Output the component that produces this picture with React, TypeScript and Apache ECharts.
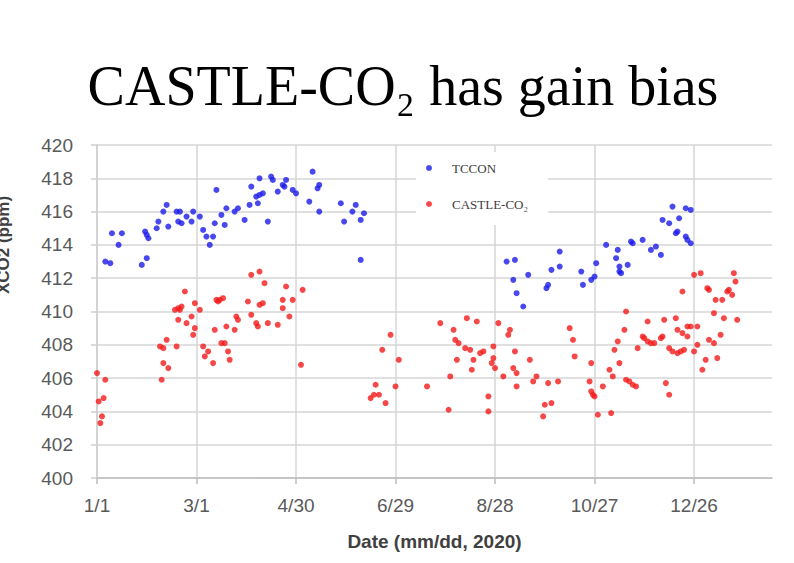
import React, { useEffect, useRef } from "react";
import * as echarts from "echarts";

// x = day of year counted from 1/1/2020, y = XCO2 (ppm)
const xTickLabels = ["1/1", "3/1", "4/30", "6/29", "8/28", "10/27", "12/26"];

const tcconData: [number, number][] = [
  [5, 413.0], [8, 412.9], [9, 414.7], [15, 414.7], [13, 414.0], [27, 412.8], [30, 413.2], [29, 414.8],
  [30, 414.6], [31, 414.4], [36, 415.0], [37, 415.4], [40, 416.0], [42, 416.4], [43, 415.1], [48, 416.0],
  [50, 416.0], [49, 415.4], [51, 415.3], [54, 415.7], [57, 415.4], [58, 416.0], [62, 415.7], [64, 414.9],
  [66, 414.5], [68, 414.0], [70, 414.5], [72, 417.3], [71, 415.3], [75, 415.8], [77, 415.2], [78, 416.2],
  [83, 416.0], [85, 416.2], [89, 415.5], [92, 416.4], [93, 417.5], [96, 416.9], [98, 417.0], [100, 417.1],
  [97, 416.5], [98, 418.0], [103, 415.4], [105, 418.1], [106, 417.9], [109, 417.2], [112, 417.6], [113, 417.5],
  [114, 417.9], [118, 417.3], [120, 417.1], [130, 418.4], [133, 417.4], [134, 417.6], [128, 416.6], [134, 416.0],
  [147, 416.5], [156, 416.4], [154, 416.0], [161, 415.9], [149, 415.4], [159, 415.5], [159, 413.1],
  [247, 413.0], [252, 413.1], [251, 411.9], [253, 411.1], [257, 410.3], [260, 412.2], [271, 411.4], [272, 411.6],
  [274, 412.5], [279, 413.6], [279, 412.7], [292, 412.4], [293, 411.6], [298, 411.9], [300, 412.1], [301, 412.9],
  [307, 414.0], [314, 413.7], [313, 413.2], [315, 412.7], [315, 412.4], [316, 412.3], [320, 412.8], [322, 414.2],
  [323, 414.1], [329, 414.3], [334, 413.7], [337, 413.9], [340, 413.4], [341, 415.5], [345, 415.3], [347, 416.3],
  [351, 415.6], [349, 414.7], [350, 414.8], [355, 416.2], [358, 416.1], [355, 414.5], [356, 414.3], [358, 414.1],
];

const castleData: [number, number][] = [
  [0, 406.3], [5, 405.9], [1, 404.6], [4, 404.8], [3, 403.7], [2, 403.3],
  [39, 405.9], [40, 406.9], [43, 406.6], [38, 407.9], [40, 407.8], [42, 408.3], [48, 407.9], [47, 410.1],
  [49, 410.2], [50, 410.1], [51, 410.3], [53, 411.2], [49, 409.5], [54, 409.3], [57, 409.7], [59, 409.0],
  [58, 408.6], [59, 410.5], [62, 410.1], [64, 407.9], [67, 407.6], [65, 407.3], [70, 406.9], [71, 408.9],
  [72, 410.7], [73, 410.6], [74, 410.7], [76, 410.8], [75, 408.1], [77, 408.1], [79, 407.6], [80, 407.1],
  [78, 409.1], [83, 408.9], [84, 409.7], [85, 409.5], [91, 410.6], [93, 409.8], [93, 412.2], [98, 412.4],
  [101, 411.7], [98, 410.4], [100, 410.5], [96, 409.3], [97, 409.1], [103, 409.3], [109, 409.2], [114, 411.5],
  [112, 410.7], [118, 410.7], [112, 410.2], [116, 409.7], [124, 411.3], [123, 406.8],
  [177, 408.6], [172, 407.7], [182, 407.1], [168, 405.6], [165, 404.8], [167, 405.0], [170, 405.0], [174, 404.5],
  [180, 405.5], [199, 405.5], [207, 409.3], [215, 408.9], [216, 408.3], [218, 408.1], [217, 407.1], [213, 406.1],
  [212, 404.1],
  [223, 409.6], [229, 409.4], [222, 407.8], [225, 407.7], [227, 407.1], [226, 406.5], [231, 407.5], [233, 407.6],
  [236, 404.9], [236, 404.0], [239, 407.9], [239, 407.2], [238, 406.9], [240, 406.6], [242, 409.3], [249, 408.9],
  [248, 408.6], [252, 407.6], [245, 406.1], [251, 406.6], [253, 406.3], [253, 405.5], [261, 407.1], [263, 405.8],
  [265, 406.1], [272, 405.7], [278, 405.8], [270, 404.4], [274, 404.5], [269, 403.7], [285, 409.0], [287, 408.3],
  [288, 407.3], [298, 406.9], [297, 405.8], [298, 405.2], [299, 405.0], [300, 404.9], [302, 403.8], [305, 405.5],
  [310, 403.9], [309, 406.5], [311, 406.1], [312, 407.7], [314, 408.2], [315, 406.9],
  [318, 408.9], [319, 410.0], [319, 405.9], [321, 405.8], [323, 405.6], [325, 405.5], [326, 407.8], [329, 408.5],
  [330, 408.4], [332, 408.2], [334, 408.1], [336, 408.1], [332, 409.4], [341, 408.5], [340, 408.4], [342, 409.5],
  [343, 405.7], [345, 405.0], [345, 407.8], [347, 407.6], [350, 407.5], [352, 407.6], [354, 407.7], [349, 409.6],
  [350, 408.9], [353, 408.7], [356, 408.5], [353, 411.2], [356, 409.1], [358, 409.1], [362, 409.1], [360, 412.2],
  [364, 412.3], [362, 408.0], [360, 407.6], [367, 407.1], [365, 406.5], [368, 411.4], [369, 411.3], [372, 409.9],
  [369, 408.3], [372, 408.1], [374, 407.2], [373, 410.7], [377, 410.7], [378, 409.6], [376, 408.6], [380, 411.2],
  [381, 411.3], [383, 411.0], [384, 412.3], [385, 411.8], [386, 409.5],
];

const SANS = '"Liberation Sans", Arial, sans-serif';
const SERIF = '"Liberation Serif", "DejaVu Serif", serif';

export default function App() {
  const ref = useRef<HTMLDivElement>(null);
  useEffect(() => {
    if (!ref.current) return;
    const chart = echarts.init(ref.current, undefined, { renderer: "svg" });
    chart.setOption({
      animation: false,
      backgroundColor: "#fff",
      grid: { left: 97, right: 22, top: 145, bottom: 85 },
      xAxis: {
        type: "value",
        min: 0,
        max: 407,
        interval: 60,
        name: "Date (mm/dd, 2020)",
        nameLocation: "middle",
        nameGap: 54,
        nameTextStyle: { fontFamily: SANS, fontSize: 19, fontWeight: "bold", color: "#404040" },
        axisLine: { show: true, lineStyle: { color: "#bdbdbd", width: 1.5 } },
        axisTick: { show: true, length: 6, lineStyle: { color: "#bdbdbd", width: 1.5 } },
        axisLabel: {
          margin: 18,
          fontFamily: SANS,
          fontSize: 19,
          color: "#595959",
          showMaxLabel: false,
          formatter: (v: number) => (v % 60 === 0 ? xTickLabels[v / 60] ?? "" : ""),
        },
        splitLine: { show: true, showMaxLine: false, lineStyle: { color: "#d6d6d6", width: 1.5 } },
      },
      yAxis: {
        type: "value",
        min: 400,
        max: 420,
        interval: 2,
        axisLine: { show: true, lineStyle: { color: "#cfcfcf", width: 1.5 } },
        axisTick: { show: true, length: 6, lineStyle: { color: "#cfcfcf", width: 1.5 } },
        axisLabel: { margin: 24, fontFamily: SANS, fontSize: 19, color: "#595959" },
        splitLine: { show: true, lineStyle: { color: "#d6d6d6", width: 1.5 } },
      },
      legend: {
        data: ["TCCON", "CASTLE-CO₂"],
        orient: "vertical",
        left: 426,
        top: 161,
        padding: 0,
        itemWidth: 36,
        itemHeight: 6,
        itemGap: 22,
        icon: "circle",
        textStyle: { fontFamily: SERIF, fontSize: 13, color: "#404040", lineHeight: 14 },
      },
      graphic: [
        {
          type: "rect",
          z: 1,
          shape: { x: 416, y: 152, width: 132, height: 73 },
          style: { fill: "#ffffff" },
          silent: true,
        },
        {
          type: "text",
          x: 403,
          y: 86,
          style: {
            text: "CASTLE-CO₂ has gain bias",
            font: `56px ${SERIF}`,
            fill: "#000",
            align: "center",
            verticalAlign: "middle",
          },
        },
        {
          type: "text",
          x: 3,
          y: 245,
          rotation: Math.PI / 2,
          style: {
            text: "XCO2 (ppm)",
            font: `bold 17px ${SANS}`,
            fill: "#404040",
            align: "center",
            verticalAlign: "middle",
          },
        },
      ],
      series: [
        {
          name: "TCCON",
          type: "scatter",
          data: tcconData,
          symbol: "circle",
          symbolSize: 6,
          itemStyle: { color: "#1a1ae8" },
        },
        {
          name: "CASTLE-CO₂",
          type: "scatter",
          data: castleData,
          symbol: "circle",
          symbolSize: 6,
          itemStyle: { color: "#f21a1a" },
        },
      ],
    });
    return () => chart.dispose();
  }, []);
  return (
    <div
      ref={ref}
      style={{ position: "fixed", left: 0, top: 0, width: 794, height: 563 }}
    />
  );
}
